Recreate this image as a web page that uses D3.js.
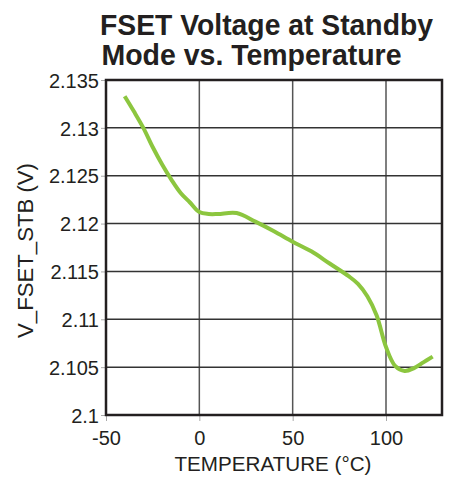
<!DOCTYPE html>
<html>
<head>
<meta charset="utf-8">
<script src="https://cdn.jsdelivr.net/npm/d3@7"></script>
<style>
  html, body { margin: 0; padding: 0; background: #fff; }
  svg { display: block; font-family: "Liberation Sans", Arial, sans-serif; }
</style>
</head>
<body>
<svg id="chart" width="456" height="479"></svg>
<script>
const titleLines = ["FSET Voltage at Standby", "Mode vs. Temperature"];
const xLabel = "TEMPERATURE (°C)";
const yLabel = "V_FSET_STB (V)";

const temperature = [-40, -35, -30, -25, -20, -15, -10, -5, 0, 5, 10, 20, 30, 40, 50, 60, 70, 80, 85, 90, 95, 100, 105, 110, 115, 120, 125];
const voltage = [2.1333, 2.1317, 2.1300, 2.1280, 2.1262, 2.1246, 2.1232, 2.1222, 2.1212, 2.1210, 2.1210, 2.1211, 2.1202, 2.1192, 2.1181, 2.1171, 2.1158, 2.1145, 2.1137, 2.1124, 2.1104, 2.1071, 2.1051, 2.1046, 2.1049, 2.1055, 2.1061];

const xTicks = [-50, 0, 50, 100];
const yTicks = [2.1, 2.105, 2.11, 2.115, 2.12, 2.125, 2.13, 2.135];
const xDomain = [-50, 130];
const yDomain = [2.1, 2.135];

const svg = d3.select("#chart");
const m = { left: 106, right: 442, top: 80, bottom: 415 };

const x = d3.scaleLinear().domain(xDomain).range([m.left, m.right]);
const y = d3.scaleLinear().domain(yDomain).range([m.bottom, m.top]);

// title
const titleWidths = [333, 300];
svg.selectAll("text.title").data(titleLines).join("text")
  .attr("class", "title")
  .attr("x", (d, i) => i === 0 ? 100 : 101.5)
  .attr("y", (d, i) => 35 + i * 30)
  .attr("font-size", 30)
  .attr("font-weight", "bold")
  .attr("fill", "#231f20")
  .attr("textLength", (d, i) => titleWidths[i])
  .attr("lengthAdjust", "spacingAndGlyphs")
  .text(d => d);

// grid
const grid = svg.append("g");
grid.selectAll("line.vx").data(xTicks.filter(t => t > xDomain[0])).join("line")
  .attr("x1", d => x(d)).attr("x2", d => x(d))
  .attr("y1", m.top).attr("y2", m.bottom)
  .attr("stroke", "#555").attr("stroke-width", 1.5);
grid.selectAll("line.hy").data(yTicks.filter(t => t > yDomain[0] && t < yDomain[1])).join("line")
  .attr("x1", m.left).attr("x2", m.right)
  .attr("y1", d => y(d)).attr("y2", d => y(d))
  .attr("stroke", "#333").attr("stroke-width", 1.5);

// axes
const xAxis = d3.axisBottom(x).tickValues(xTicks).tickSize(6).tickPadding(10).tickFormat(d => String(d));
const yAxis = d3.axisLeft(y).tickValues(yTicks).tickSize(5).tickPadding(2).tickFormat(d => String(+d.toFixed(3)));

const gx = svg.append("g").attr("transform", `translate(0,${m.bottom})`).call(xAxis);
const gy = svg.append("g").attr("transform", `translate(${m.left},0)`).call(yAxis);
[gx, gy].forEach(g => {
  g.select(".domain").remove();
  g.selectAll(".tick line").attr("stroke", "#aaa").attr("stroke-width", 1);
  g.selectAll(".tick text").attr("font-size", 20).attr("fill", "#231f20")
    .attr("font-family", "'Liberation Sans', Arial, sans-serif");
});
gy.selectAll(".tick text").attr("dy", "0.36em");

// frame
svg.append("rect")
  .attr("x", m.left).attr("y", m.top)
  .attr("width", m.right - m.left).attr("height", m.bottom - m.top)
  .attr("fill", "none").attr("stroke", "#231f20").attr("stroke-width", 2.5);

// line
const data = temperature.map((t, i) => [t, voltage[i]]);
svg.append("path")
  .datum(data)
  .attr("fill", "none")
  .attr("stroke", "#8cc63f")
  .attr("stroke-width", 4)
  .attr("stroke-linejoin", "round")
  .attr("d", d3.line().x(d => x(d[0])).y(d => y(d[1])).curve(d3.curveCatmullRom));

// axis labels
svg.append("text")
  .attr("x", 273)
  .attr("y", 471)
  .attr("text-anchor", "middle")
  .attr("font-size", 21)
  .attr("fill", "#231f20")
  .attr("textLength", 197)
  .attr("lengthAdjust", "spacingAndGlyphs")
  .text(xLabel);

svg.append("text")
  .attr("transform", `translate(33,${(m.top + m.bottom) / 2 + 3}) rotate(-90)`)
  .attr("text-anchor", "middle")
  .attr("font-size", 21.5)
  .attr("fill", "#231f20")
  .attr("textLength", 175)
  .attr("lengthAdjust", "spacingAndGlyphs")
  .text(yLabel);
</script>
</body>
</html>
